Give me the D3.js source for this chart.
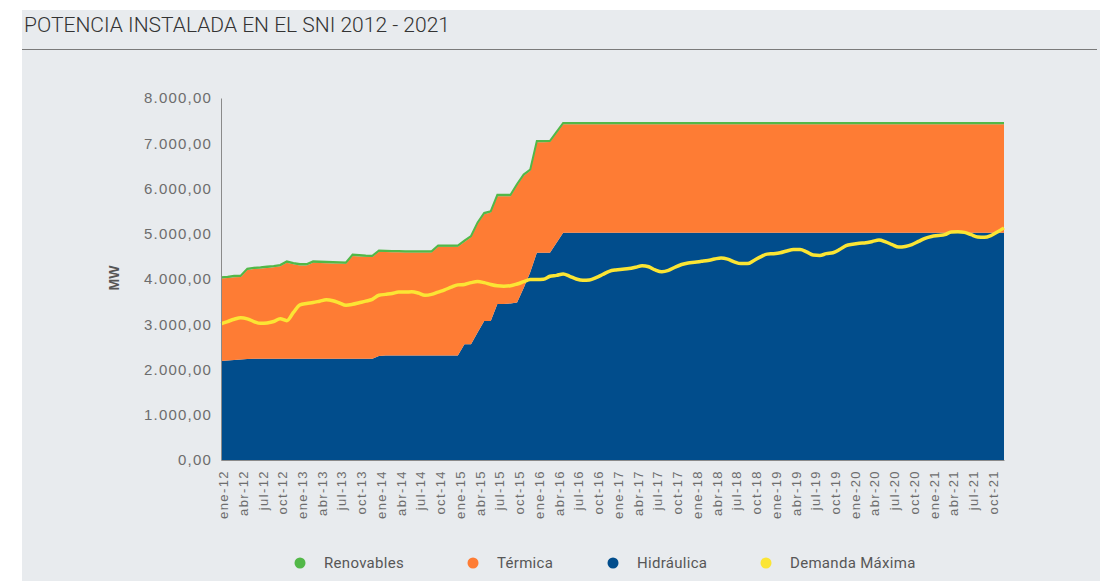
<!DOCTYPE html>
<html>
<head>
<meta charset="utf-8">
<script src="https://cdn.jsdelivr.net/npm/d3@7"></script>
<style>
  body { margin: 0; background: #fff; }
</style>
</head>
<body>
<div id="chart"></div>
<script>
// categorias: meses ene-12 ... dic-21
var meses = ["ene", "feb", "mar", "abr", "may", "jun", "jul", "ago", "sep", "oct", "nov", "dic"];
var anios = ["12", "13", "14", "15", "16", "17", "18", "19", "20", "21"];
var periodos = [];
anios.forEach(function(a) { meses.forEach(function(m) { periodos.push(m + "-" + a); }); });
var ticksEje = periodos.filter(function(p, i) { return i % 3 === 0; });

var yTicks = [0, 1000, 2000, 3000, 4000, 5000, 6000, 7000, 8000];

// MW, un valor por mes
var hidraulica = [
  2190, 2200, 2210, 2220, 2230, 2235, 2240, 2240, 2240, 2240, 2240, 2240,
  2240, 2240, 2240, 2240, 2240, 2240, 2240, 2240, 2240, 2240, 2240, 2240,
  2300, 2310, 2310, 2310, 2310, 2310, 2310, 2310, 2310, 2310, 2310, 2310,
  2310, 2560, 2560, 2820, 3070, 3070, 3450, 3450, 3460, 3480, 3800, 4150,
  4580, 4580, 4580, 4800, 5020, 5020, 5020, 5020, 5020, 5020, 5020, 5020,
  5020, 5020, 5020, 5020, 5020, 5020, 5020, 5020, 5020, 5020, 5020, 5020,
  5020, 5020, 5020, 5020, 5020, 5020, 5020, 5020, 5020, 5020, 5020, 5020,
  5020, 5020, 5020, 5020, 5020, 5020, 5020, 5020, 5020, 5020, 5020, 5020,
  5020, 5020, 5020, 5020, 5020, 5020, 5020, 5020, 5020, 5020, 5020, 5020,
  5020, 5020, 5020, 5020, 5020, 5020, 5020, 5020, 5020, 5020, 5020, 5020
];
var termica = [
  1820, 1820, 1830, 1825, 1970, 1985, 1990, 2005, 2020, 2040, 2120, 2085,
  2060, 2060, 2120, 2115, 2110, 2105, 2100, 2095, 2270, 2260, 2250, 2245,
  2300, 2285, 2280, 2280, 2275, 2275, 2273, 2273, 2273, 2400, 2400, 2400,
  2400, 2260, 2360, 2400, 2360, 2400, 2380, 2380, 2370, 2590, 2480, 2240,
  2440, 2440, 2445, 2420, 2400, 2400, 2400, 2400, 2400, 2400, 2400, 2400,
  2400, 2400, 2400, 2400, 2400, 2400, 2400, 2400, 2400, 2400, 2400, 2400,
  2400, 2400, 2400, 2400, 2400, 2400, 2400, 2400, 2400, 2400, 2400, 2400,
  2400, 2400, 2400, 2400, 2400, 2400, 2400, 2400, 2400, 2400, 2400, 2400,
  2400, 2400, 2400, 2400, 2400, 2400, 2400, 2400, 2400, 2400, 2400, 2400,
  2400, 2400, 2400, 2400, 2400, 2400, 2400, 2400, 2400, 2400, 2400, 2400
];
var renovables = [
  30, 30, 30, 30, 30, 30, 30, 30, 30, 30, 30, 30,
  30, 30, 30, 30, 30, 30, 30, 30, 30, 30, 30, 30,
  30, 30, 30, 30, 30, 30, 30, 30, 30, 30, 30, 30,
  30, 30, 30, 30, 30, 30, 30, 30, 30, 30, 30, 30,
  30, 30, 30, 30, 30, 30, 30, 30, 30, 30, 30, 30,
  30, 30, 30, 30, 30, 30, 30, 30, 30, 30, 30, 30,
  30, 30, 30, 30, 30, 30, 30, 30, 30, 30, 30, 30,
  30, 30, 30, 30, 30, 30, 30, 30, 30, 30, 30, 30,
  30, 30, 30, 30, 30, 30, 30, 30, 30, 30, 30, 30,
  30, 30, 30, 30, 30, 30, 30, 30, 30, 30, 30, 30
];
var demandaMaxima = [
  3010, 3060, 3110, 3145, 3120, 3060, 3020, 3030, 3060, 3120, 3080, 3260,
  3430, 3460, 3480, 3510, 3540, 3520, 3470, 3420, 3440, 3475, 3510, 3550,
  3640, 3660, 3680, 3710, 3710, 3720, 3690, 3640, 3660, 3710, 3760, 3820,
  3870, 3880, 3920, 3945, 3920, 3880, 3850, 3840, 3850, 3890, 3940, 3990,
  3990, 3995, 4060, 4080, 4110, 4060, 4000, 3970, 3980, 4030, 4100, 4170,
  4200, 4215, 4230, 4260, 4295, 4270, 4200, 4160, 4190, 4260, 4320, 4355,
  4370, 4390, 4410, 4440, 4465, 4440, 4380, 4340, 4340, 4410, 4490, 4550,
  4560, 4580, 4620, 4650, 4650, 4600, 4530, 4520, 4560, 4580, 4650, 4740,
  4770, 4790, 4800, 4830, 4860, 4820, 4760, 4705, 4720, 4760, 4830, 4900,
  4940, 4960, 4980, 5040, 5045, 5030, 4980, 4930, 4920, 4960, 5040, 5130
];

var leyenda = ["Renovables", "Térmica", "Hidráulica", "Demanda Máxima"];
var colores = {
  "Renovables": "#52b848",
  "Térmica": "#fe7c34",
  "Hidráulica": "#014d8c",
  "Demanda Máxima": "#fbe534"
};

var width = 1100, height = 581;
var svg = d3.select("#chart").append("svg")
    .attr("width", width)
    .attr("height", height)
    .style("display", "block");

// panel gris
svg.append("rect")
    .attr("x", 22).attr("y", 10)
    .attr("width", width - 22).attr("height", height - 10)
    .attr("fill", "#e8ebee");

svg.append("text")
    .attr("x", 24).attr("y", 32)
    .attr("textLength", 426)
    .attr("lengthAdjust", "spacingAndGlyphs")
    .style("font-family", "Roboto, sans-serif")
    .style("font-size", "21px")
    .style("font-weight", "300")
    .attr("fill", "#333")
    .text("POTENCIA INSTALADA EN EL SNI 2012 - 2021");

svg.append("line")
    .attr("x1", 22).attr("x2", 1097)
    .attr("y1", 49.5).attr("y2", 49.5)
    .attr("stroke", "#7a7a7a").attr("stroke-width", 1);

var x = d3.scalePoint()
    .domain(periodos)
    .range([221, 1004]);
var y = d3.scaleLinear()
    .domain([0, 8000])
    .range([460, 98]);

var data = periodos.map(function(p, i) {
  return {
    periodo: p,
    "Hidráulica": hidraulica[i],
    "Térmica": termica[i],
    "Renovables": renovables[i],
    demanda: demandaMaxima[i]
  };
});

var stack = d3.stack().keys(["Hidráulica", "Térmica", "Renovables"]);
var capas = stack(data);

var area = d3.area()
    .x(function(d) { return x(d.data.periodo); })
    .y0(function(d) { return y(d[0]); })
    .y1(function(d) { return y(d[1]); });

svg.append("g").selectAll("path")
    .data(capas)
  .enter().append("path")
    .attr("d", area)
    .attr("fill", function(d) { return colores[d.key]; });

// borde verde de renovables
var topLine = d3.line()
    .x(function(d) { return x(d.data.periodo); })
    .y(function(d) { return y(d[1]); });
svg.append("path")
    .datum(capas[2])
    .attr("d", topLine)
    .attr("fill", "none")
    .attr("stroke", colores["Renovables"])
    .attr("stroke-width", 2);

// demanda maxima
var linea = d3.line()
    .x(function(d) { return x(d.periodo); })
    .y(function(d) { return y(d.demanda); })
    .curve(d3.curveMonotoneX);
svg.append("path")
    .datum(data)
    .attr("d", linea)
    .attr("fill", "none")
    .attr("stroke", colores["Demanda Máxima"])
    .attr("stroke-width", 3.5)
    .attr("stroke-linejoin", "round");

var locale = d3.formatLocale({decimal: ",", thousands: ".", grouping: [3], currency: ["", ""]});
var fmt = locale.format(",.2f");

// eje y
svg.append("g")
    .attr("transform", "translate(221,0)")
    .call(d3.axisLeft(y).tickValues(yTicks).tickFormat(fmt).tickSize(0).tickPadding(9))
    .call(function(g) {
      g.select(".domain").attr("stroke", "#8a8a8a");
      g.selectAll("text")
        .style("font-family", "'Liberation Sans', Arial, sans-serif")
        .style("font-size", "15px")
        .style("letter-spacing", "1.2px")
        .attr("fill", "#6d6d6d");
    });

svg.append("text")
    .attr("transform", "translate(119,278) rotate(-90)")
    .attr("text-anchor", "middle")
    .style("font-family", "'Liberation Sans', Arial, sans-serif")
    .style("font-size", "14px")
    .style("font-weight", "bold")
    .attr("fill", "#555")
    .text("MW");

// eje x
svg.append("g")
    .attr("transform", "translate(0,460)")
    .call(d3.axisBottom(x).tickValues(ticksEje).tickSize(0))
    .call(function(g) {
      g.select(".domain").attr("stroke", "#8a8a8a");
      g.selectAll("text")
        .attr("transform", "rotate(-90)")
        .attr("x", -10)
        .attr("y", 2)
        .attr("dy", "0.35em")
        .style("text-anchor", "end")
        .style("font-family", "'Liberation Sans', Arial, sans-serif")
        .style("font-size", "13px")
        .style("letter-spacing", "1.4px")
        .attr("fill", "#6d6d6d");
    });

// leyenda
var legX = [300, 473, 613, 766];
var leg = svg.append("g").selectAll("g")
    .data(leyenda)
  .enter().append("g")
    .attr("transform", function(d, i) { return "translate(" + legX[i] + ",563)"; });
leg.append("circle")
    .attr("r", 5.5)
    .attr("fill", function(d) { return colores[d]; });
leg.append("text")
    .attr("x", 24)
    .attr("dy", "0.35em")
    .style("font-family", "Roboto, sans-serif")
    .style("font-size", "15px")
    .style("letter-spacing", "0.3px")
    .attr("fill", "#575757")
    .text(function(d) { return d; });
</script>
</body>
</html>
